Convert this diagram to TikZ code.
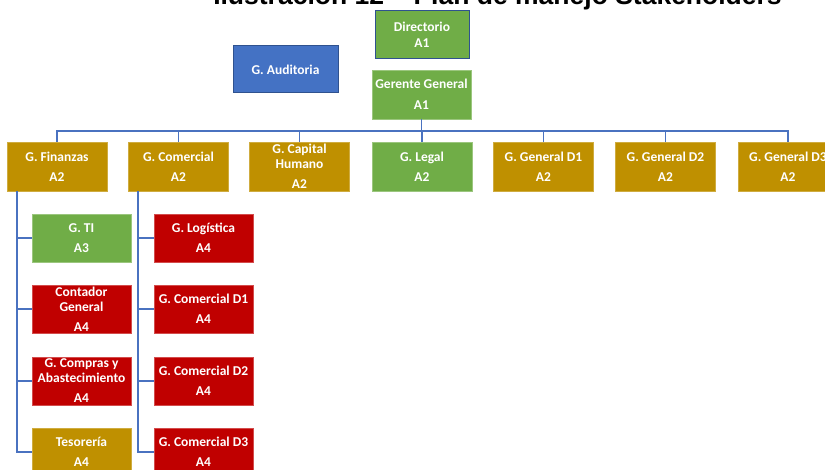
\documentclass[tikz,border=0pt]{standalone}
\usepackage{fontspec}
\setmainfont{Carlito}
\newfontfamily\titlefont{Liberation Sans}
\definecolor{cgold}{HTML}{BF9000}
\definecolor{cgreen}{HTML}{70AD47}
\definecolor{cred}{HTML}{C00000}
\definecolor{cblue}{HTML}{4472C4}
\definecolor{cdark}{HTML}{2F528F}
\definecolor{cline}{HTML}{4A72C0}
\begin{document}
\begin{tikzpicture}[x=1pt,y=1pt,
  box/.style={rectangle, inner sep=0pt, align=center, text=white,
    font=\fontsize{13.5}{15}\selectfont\bfseries, line width=0.7pt},
  goldbox/.style={box, fill=cgold, draw=cgold!75!white},
  greenbox/.style={box, fill=cgreen, draw=cgreen!70!white},
  redbox/.style={box, fill=cred, draw=cred!70!white},
  bluebox/.style={box, fill=cblue, draw=cdark, line width=1pt},
  toprow/.style={minimum width=100pt, minimum height=49pt},
  child/.style={minimum width=99pt, minimum height=48pt},
  conn/.style={draw=cline, line width=1.3pt}]
\useasboundingbox (0,0) rectangle (825,470);
\node[anchor=base, font=\titlefont\fontsize{26.5}{30}\selectfont\bfseries] (title) at (497.5,465) {Ilustración 12 – Plan de manejo Stakeholders};

\node[greenbox, draw=cdark, line width=1pt, minimum width=94pt, minimum height=48pt] (dir) at (422,435) {Directorio\\[1pt]A1};
\node[bluebox, minimum width=105pt, minimum height=47pt] (aud) at (285.5,400.5) {G. Auditoria};
\node[greenbox, minimum width=99pt, minimum height=49pt] (gg) at (421.5,375.5) {Gerente General\\[6pt]A1};

\node[goldbox, toprow] (fin) at (57,303.5) {G. Finanzas\\[5pt]A2};
\node[goldbox, toprow] (com) at (178.5,303.5) {G. Comercial\\[5pt]A2};
\node[goldbox, toprow] (cap) at (299.5,303.5) {G. Capital\\Humano\\[5pt]A2};
\node[greenbox, toprow] (leg) at (422,303.5) {G. Legal\\[5pt]A2};
\node[goldbox, toprow] (d1) at (543.5,303.5) {G. General D1\\[5pt]A2};
\node[goldbox, toprow] (d2) at (665.5,303.5) {G. General D2\\[5pt]A2};
\node[goldbox, toprow] (d3) at (788,303.5) {G. General D3\\[5pt]A2};

\node[greenbox, child] (ti) at (81.5,232) {G. TI\\[5pt]A3};
\node[redbox, child] (cont) at (81.5,161) {Contador\\General\\[5pt]A4};
\node[redbox, child] (compras) at (81.5,89) {G. Compras y\\Abastecimiento\\[5pt]A4};
\node[goldbox, child] (tes) at (81.5,18) {Tesorería\\[5pt]A4};

\node[redbox, child] (log) at (203.5,232) {G. Logística\\[5pt]A4};
\node[redbox, child] (cd1) at (203.5,161) {G. Comercial D1\\[5pt]A4};
\node[redbox, child] (cd2) at (203.5,89) {G. Comercial D2\\[5pt]A4};
\node[redbox, child] (cd3) at (203.5,18) {G. Comercial D3\\[5pt]A4};

\coordinate (bus) at (0,339);
\coordinate (finv) at (17,0);
\coordinate (comv) at (138,0);

\draw[conn] (gg.south) -- (gg.south |- bus);
\draw[conn] (fin.north) -- (fin.north |- bus) -- (d3.north |- bus) -- (d3.north);
\foreach \n in {com,cap,leg,d1,d2} \draw[conn] (\n.north) -- (\n.north |- bus);

\draw[conn] (finv |- fin.south) |- (tes.west);
\foreach \n in {ti,cont,compras} \draw[conn] (finv |- \n.west) -- (\n.west);
\draw[conn] (comv |- com.south) |- (cd3.west);
\foreach \n in {log,cd1,cd2} \draw[conn] (comv |- \n.west) -- (\n.west);
\end{tikzpicture}
\end{document}
